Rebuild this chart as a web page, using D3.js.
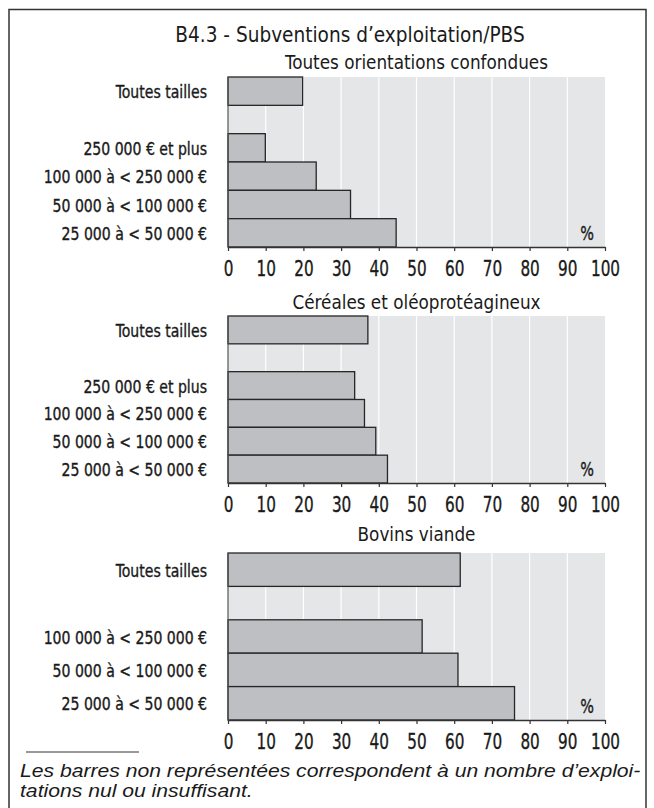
<!DOCTYPE html>
<html>
<head>
<meta charset="utf-8">
<script src="https://cdn.jsdelivr.net/npm/d3@7"></script>
<style>
  body { margin: 0; background: #fff; }
  svg text { font-family: "Liberation Sans Narrow", "DejaVu Sans Condensed", sans-serif; fill: #1a1a1a; }
  svg text.heavy { stroke: #1a1a1a; stroke-width: 0.35px; }
  svg text.note { font-family: "Liberation Sans", Arial, sans-serif; font-style: italic; }
</style>
</head>
<body>
<svg id="chart" width="654" height="808"></svg>
<script>
// data
const mainTitle = 'B4.3 - Subventions d\u2019exploitation/PBS';
const panelTitles = ['Toutes orientations confondues', 'Céréales et oléoprotéagineux', 'Bovins viande'];
const catsAll = ['Toutes tailles', '250 000 € et plus', '100 000 à < 250 000 €', '50 000 à < 100 000 €', '25 000 à < 50 000 €'];
const valsAll = [19.8, 9.9, 23.4, 32.5, 44.6];
const catsCereales = ['Toutes tailles', '250 000 € et plus', '100 000 à < 250 000 €', '50 000 à < 100 000 €', '25 000 à < 50 000 €'];
const valsCereales = [37.1, 33.6, 36.2, 39.2, 42.3];
const catsBovins = ['Toutes tailles', '100 000 à < 250 000 €', '50 000 à < 100 000 €', '25 000 à < 50 000 €'];
const valsBovins = [61.6, 51.5, 61.0, 76.0];
const tickVals = [0, 10, 20, 30, 40, 50, 60, 70, 80, 90, 100];
const noteLines = ['Les barres non représentées correspondent à un nombre d\u2019exploi-', 'tations nul ou insuffisant.'];

const svg = d3.select('#chart');

// squeeze / stretch text horizontally around its anchor
function label(sel, px, py, txt, size, sx, anchor) {
    return sel.append('text')
        .attr('transform', `translate(${px},${py}) scale(${sx},1)`)
        .attr('text-anchor', anchor || 'start')
        .attr('font-size', size)
        .text(txt);
}

// frame
svg.append('rect')
    .attr('x', 9).attr('y', 9.5)
    .attr('width', 637).attr('height', 810)
    .attr('fill', 'none')
    .attr('stroke', '#333')
    .attr('stroke-width', 1.5);

label(svg, 350, 42, mainTitle, 21, 0.98, 'middle');

const x = d3.scaleLinear().domain([0, 100]).range([228, 605]);

const panels = [
    {title: panelTitles[0], cats: catsAll, vals: valsAll, top: 77, bottom: 247, titleY: 69},
    {title: panelTitles[1], cats: catsCereales, vals: valsCereales, top: 316, bottom: 483, titleY: 309},
    {title: panelTitles[2], cats: catsBovins, vals: valsBovins, top: 553, bottom: 720, titleY: 541}
];

panels.forEach(p => {
    const g = svg.append('g');
    // empty slot after "Toutes tailles"
    const domain = [p.cats[0], '__gap', ...p.cats.slice(1)];
    const y = d3.scaleBand().domain(domain).range([p.top, p.bottom]).padding(0);

    label(g, (x(0) + x(100)) / 2, p.titleY, p.title, 20, 0.936, 'middle');

    g.append('rect')
        .attr('x', x(0)).attr('y', p.top)
        .attr('width', x(100) - x(0)).attr('height', p.bottom - p.top)
        .attr('fill', '#e5e6e8');

    g.selectAll('.grid')
        .data(tickVals.slice(1, -1))
        .join('line')
        .attr('x1', d => x(d)).attr('x2', d => x(d))
        .attr('y1', p.top).attr('y2', p.bottom)
        .attr('stroke', '#fff')
        .attr('stroke-width', 1.2);

    g.selectAll('.bar')
        .data(p.vals)
        .join('rect')
        .attr('x', x(0))
        .attr('y', (d, i) => y(p.cats[i]))
        .attr('width', d => x(d) - x(0))
        .attr('height', y.bandwidth())
        .attr('fill', '#bebfc3')
        .attr('stroke', '#262626')
        .attr('stroke-width', 1.3);

    // left axis line
    g.append('line')
        .attr('x1', x(0)).attr('x2', x(0))
        .attr('y1', p.top).attr('y2', p.bottom)
        .attr('stroke', '#555').attr('stroke-width', 1.2);

    p.cats.forEach(c => {
        label(g, 207, y(c) + y.bandwidth() / 2 + 7, c, 18.5, 0.845, 'end').attr('class', 'heavy');
    });

    const axis = d3.axisBottom(x).tickValues(tickVals).tickSize(4).tickSizeOuter(0);
    const ax = g.append('g')
        .attr('transform', `translate(0,${p.bottom})`)
        .call(axis);
    ax.select('.domain').attr('stroke', '#333').attr('stroke-width', 1.3);
    ax.selectAll('.tick line').attr('stroke', '#333').attr('stroke-width', 1.2);
    ax.selectAll('.tick text')
        .attr('class', 'heavy')
        .attr('y', 29).attr('dy', null)
        .attr('transform', 'scale(0.77,1)')
        .attr('font-size', 22)
        .attr('fill', '#1a1a1a')
        .attr('font-family', '"Liberation Sans Narrow", "DejaVu Sans Condensed", sans-serif');

    label(g, 594, p.bottom - 7, '%', 20, 0.8, 'end').attr('class', 'heavy');
});

// footnote
svg.append('line')
    .attr('x1', 26).attr('x2', 139)
    .attr('y1', 752).attr('y2', 752)
    .attr('stroke', '#333').attr('stroke-width', 1);

noteLines.forEach((t, i) => {
    label(svg, 20, 777 + i * 20, t, 18, 1.175).attr('class', 'note');
});
</script>
</body>
</html>
